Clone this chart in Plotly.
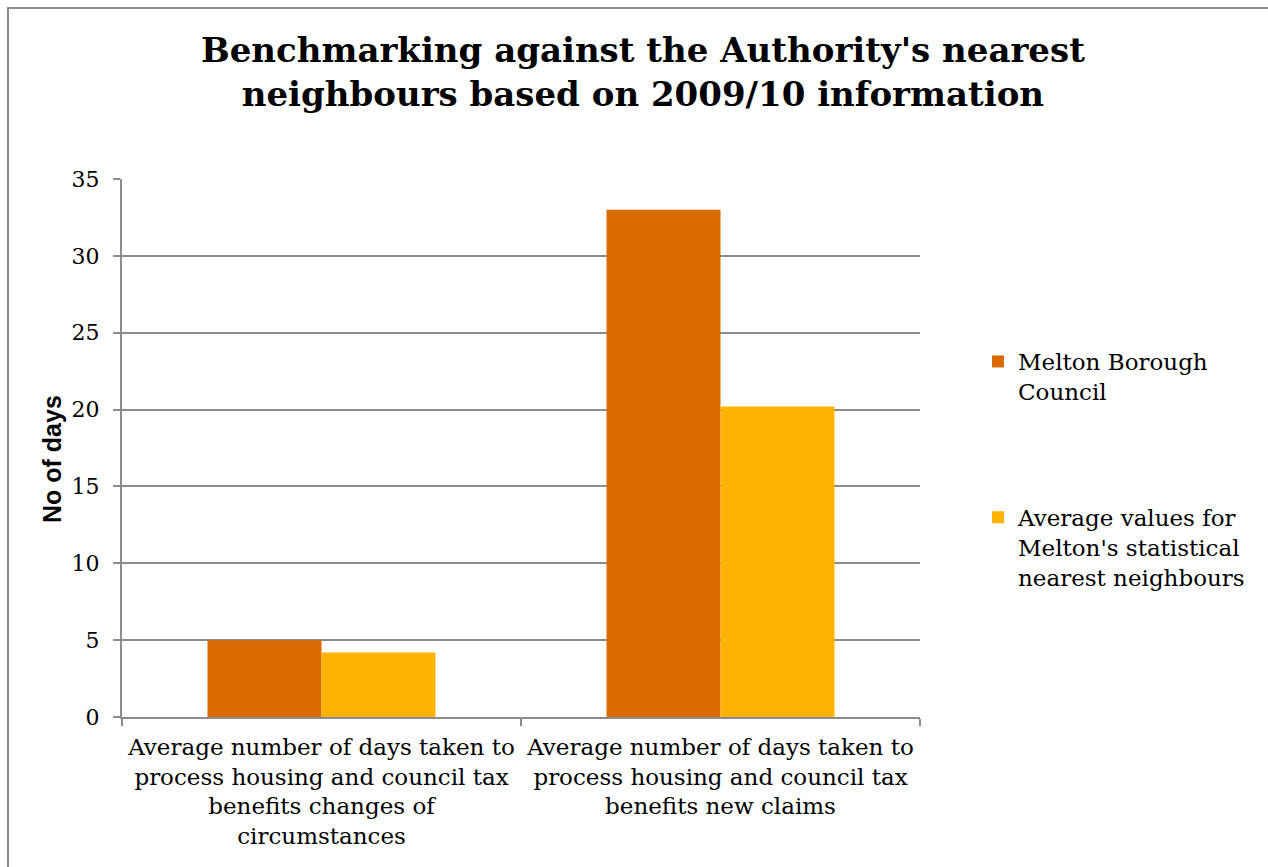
import plotly.graph_objects as go

categories = [
    "Average number of days taken to<br>process housing and council tax<br>benefits changes of<br>circumstances",
    "Average number of days taken to<br>process housing and council tax<br>benefits new claims",
]
series_names = ["Melton Borough<br>Council", "Average values for<br>Melton's statistical<br>nearest neighbours"]
melton = [5, 33]
neighbours = [4.2, 20.2]
y_ticks = [0, 5, 10, 15, 20, 25, 30, 35]

SERIF = "DejaVu Serif"
GRID = "#8c8c8c"

fig = go.Figure()
fig.add_trace(go.Bar(x=categories, y=melton, name=series_names[0], legendgroup="a",
                     marker=dict(color="#DA6900", line=dict(width=0))))
fig.add_trace(go.Bar(x=categories, y=neighbours, name=series_names[1], legendgroup="b",
                     marker=dict(color="#FDB300", line=dict(width=0))))

W, H = 1268, 867
L, R, T, B = 122, 920, 179, 717
fig.update_layout(
    width=W, height=H,
    margin=dict(l=L, r=W - R, t=T, b=H - B, autoexpand=False),
    paper_bgcolor="white", plot_bgcolor="white",
    barmode="group", bargap=0.4286, bargroupgap=0,
    title=dict(
        text="<b>Benchmarking against the Authority's nearest<br>neighbours based on 2009/10 information</b>",
        x=0.507, xref="container", xanchor="center",
        y=1 - 62 / H, yref="container", yanchor="top",
        font=dict(family=SERIF, size=34, color="black"),
    ),
    font=dict(family=SERIF, color="black"),
    legend=dict(
        x=(978 - L) / (R - L), xanchor="left", xref="paper",
        y=(B - 340) / (B - T), yanchor="top",
        font=dict(family=SERIF, size=23, color="black"),
        tracegroupgap=93, traceorder="grouped", valign="top",
        itemwidth=30, bgcolor="rgba(0,0,0,0)",
    ),
    xaxis=dict(
        showline=True, linecolor=GRID, linewidth=2,
        ticks="outside", tickson="boundaries", ticklen=7, tickcolor=GRID, tickwidth=2,
        tickfont=dict(family=SERIF, size=23, color="black"),
        ticklabelstandoff=8,
        showgrid=False,
    ),
    yaxis=dict(
        range=[0, 35], tickvals=y_ticks, ticktext=[str(v) for v in y_ticks],
        showline=True, linecolor=GRID, linewidth=2,
        ticks="outside", ticklen=7, tickcolor=GRID, tickwidth=2,
        ticklabelstandoff=9,
        showgrid=True, gridcolor=GRID, gridwidth=1.5,
        zeroline=False,
        tickfont=dict(family=SERIF, size=22, color="black"),
    ),
    annotations=[dict(
        text="<b>No of days</b>", textangle=-90,
        xref="paper", yref="paper",
        x=(52 - L) / (R - L), y=(B - 459) / (B - T),
        xanchor="center", yanchor="middle", showarrow=False,
        font=dict(family="Liberation Sans", size=25, color="black"),
    )],
)

# outer chart border
fig.add_shape(type="rect", xref="paper", yref="paper",
              x0=(8 - L) / (R - L), x1=(1280 - L) / (R - L),
              y0=(B - 880) / (B - T), y1=(B - 8) / (B - T),
              line=dict(color="#8c8c8c", width=2), layer="below")

fig.write_html("out.html")
